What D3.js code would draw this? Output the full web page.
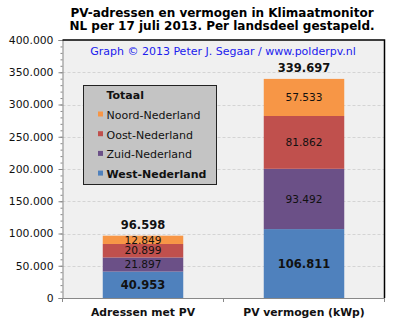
<!DOCTYPE html>
<html><head><meta charset="utf-8">
<script src="https://cdn.jsdelivr.net/npm/d3@7"></script>
<style>body{margin:0;background:#fff}svg{display:block}text{font-family:"DejaVu Sans",Verdana,sans-serif}</style>
</head><body><svg id="c" width="401" height="329"></svg>
<script>
const categories = ["Adressen met PV", "PV vermogen (kWp)"];
const regions = ["West-Nederland", "Zuid-Nederland", "Oost-Nederland", "Noord-Nederland"];
const west = [40953, 106811];
const zuid = [21897, 93492];
const oost = [20899, 81862];
const noord = [12849, 57533];
const totals = ["96.598", "339.697"];
const yTicks = [0, 50000, 100000, 150000, 200000, 250000, 300000, 350000, 400000];
const colors = ["#4f81bd", "#6b5087", "#c0504d", "#f79646"];
const titleLines = ["PV-adressen en vermogen in Klimaatmonitor", "NL per 17 juli 2013. Per landsdeel gestapeld."];
const credit = "Graph \u00a9 2013 Peter J. Segaar / www.polderpv.nl";

const svg = d3.select("#c");
const L = 62.5, R = 384.5, T = 40, B = 298;
const x = d3.scaleBand().domain(categories).range([L, R]).paddingInner(0.5).paddingOuter(0.25);
const xb = d3.scaleBand().domain(categories).range([L, R]);
const y = d3.scaleLinear().domain([0, 400000]).range([B, T]);
const fmt = v => d3.format(",")(v).replace(/,/g, ".");

svg.append("rect").attr("x", L).attr("y", T).attr("width", R - L).attr("height", B - T).attr("fill", "#f0f0f0");
// grid
svg.append("g").selectAll("line").data(yTicks.filter(t => t > 0 && t < 400000)).join("line")
  .attr("x1", L).attr("x2", R).attr("y1", d => Math.round(y(d)) + 0.5).attr("y2", d => Math.round(y(d)) + 0.5)
  .attr("stroke", "#d4d4d4").attr("stroke-dasharray", "3,2");

// stacks
const rows = categories.map((c, i) => ({cat: c, "West-Nederland": west[i], "Zuid-Nederland": zuid[i], "Oost-Nederland": oost[i], "Noord-Nederland": noord[i]}));
const stack = d3.stack().keys(regions)(rows);
stack.forEach((s, si) => {
  svg.append("g").selectAll("rect").data(s).join("rect")
    .attr("x", d => x(d.data.cat)).attr("width", x.bandwidth())
    .attr("y", d => y(d[1])).attr("height", d => y(d[0]) - y(d[1]))
    .attr("fill", colors[si]);
  svg.append("g").selectAll("text").data(s).join("text")
    .attr("x", d => x(d.data.cat) + x.bandwidth() / 2)
    .attr("y", d => (y(d[0]) + y(d[1])) / 2 + (si === 0 ? 4 : 3.7))
    .attr("text-anchor", "middle").attr("font-size", si === 0 ? 11.5 : 10.6)
    .attr("font-weight", si === 0 ? "bold" : "normal").attr("fill", "#111")
    .text(d => fmt(d[1] - d[0]));
});
// totals
svg.append("g").selectAll("text").data(categories).join("text")
  .attr("x", c => x(c) + x.bandwidth() / 2)
  .attr("y", (c, i) => y(west[i] + zuid[i] + oost[i] + noord[i]) - 7)
  .attr("text-anchor", "middle").attr("font-size", 11.5).attr("font-weight", "bold").attr("fill", "#111")
  .text((c, i) => totals[i]);

// y axis
const ya = svg.append("g").attr("transform", `translate(${L},0)`)
  .call(d3.axisLeft(y).tickValues(yTicks).tickSize(4).tickPadding(5).tickFormat(fmt));
ya.select(".domain").attr("stroke", "#888");
ya.selectAll(".tick line").attr("stroke", "#888");
ya.selectAll("text").attr("font-size", 10.8).attr("fill", "#111").style("font-family", "DejaVu Sans, Verdana, sans-serif");
svg.append("g").attr("transform", `translate(${L},0)`)
  .call(d3.axisLeft(y).ticks(40).tickSize(2).tickFormat(""))
  .call(g => g.select(".domain").remove())
  .selectAll("line").attr("stroke", "#888");

// x axis
const xa = svg.append("g").attr("transform", `translate(0,${B})`)
  .call(d3.axisBottom(xb).tickSize(0).tickPadding(10));
xa.select(".domain").attr("stroke", "#888");
xa.selectAll("text").attr("font-size", 10.8).attr("font-weight", "bold").attr("fill", "#111").style("font-family", "DejaVu Sans, Verdana, sans-serif");
svg.append("g").selectAll("line").data(categories.concat([null])).join("line")
  .attr("x1", (c, i) => (i < categories.length ? xb(c) : xb.range()[1]))
  .attr("x2", (c, i) => (i < categories.length ? xb(c) : xb.range()[1]))
  .attr("y1", B).attr("y2", B + 4).attr("stroke", "#888");

// border top/right
svg.append("path").attr("d", `M${L},${T}H${R}V${B}`).attr("fill", "none").attr("stroke", "#000").attr("stroke-width", 1.5);

// legend
const lg = svg.append("g");
lg.append("rect").attr("x", 83.5).attr("y", 85.5).attr("width", 133).attr("height", 99).attr("fill", "#c4c4c4").attr("stroke", "#222");
lg.append("text").attr("x", 106.5).attr("y", 99).attr("font-size", 11).attr("font-weight", "bold").attr("fill", "#111").text("Totaal");
const legItems = regions.slice().reverse();
legItems.forEach((r, i) => {
  const yy = 114.5 + i * 19.7;
  lg.append("rect").attr("x", 98).attr("y", yy - 3).attr("width", 5).attr("height", 5).attr("fill", colors[3 - i]);
  lg.append("text").attr("x", 106.5).attr("y", yy + 4.5).attr("font-size", 11)
    .attr("font-weight", r === "West-Nederland" ? "bold" : "normal").attr("fill", "#111").text(r);
});

// titles
svg.append("g").selectAll("text").data(titleLines).join("text")
  .attr("x", 222).attr("y", (d, i) => 16.5 + i * 13.5).attr("text-anchor", "middle")
  .attr("font-size", 12).attr("font-weight", "bold").attr("fill", "#000").text(d => d);
svg.append("text").attr("x", 223).attr("y", 54.5).attr("text-anchor", "middle")
  .attr("font-size", 11).attr("fill", "#2020ee").text(credit);
</script></body></html>
